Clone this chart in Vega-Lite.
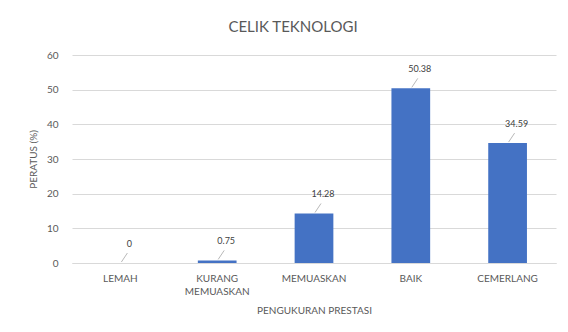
{
  "$schema": "https://vega.github.io/schema/vega-lite/v6.json",
  "autosize": {"type": "none"},
  "width": 484,
  "height": 208,
  "padding": {"left": 72, "top": 55, "right": 12, "bottom": 69},
  "background": "white",
  "title": {
    "text": "CELIK TEKNOLOGI",
    "font": "Lato",
    "fontSize": 15,
    "fontWeight": "normal",
    "color": "#595959",
    "offset": 15,
    "dx": -21
  },
  "data": {
    "values": [
      {"kategori": "LEMAH", "peratus": 0, "label": "0"},
      {"kategori": "KURANG MEMUASKAN", "peratus": 0.75, "label": "0.75"},
      {"kategori": "MEMUASKAN", "peratus": 14.28, "label": "14.28"},
      {"kategori": "BAIK", "peratus": 50.38, "label": "50.38"},
      {"kategori": "CEMERLANG", "peratus": 34.59, "label": "34.59"}
    ]
  },
  "encoding": {
    "x": {
      "field": "kategori",
      "type": "nominal",
      "sort": null,
      "scale": {"paddingInner": 0.6, "paddingOuter": 0.3},
      "axis": {
        "title": "PENGUKURAN PRESTASI",
        "labelAngle": 0,
        "labelExpr": "split(datum.label, ' ')",
        "labelLineHeight": 13,
        "labelPadding": 10,
        "ticks": false,
        "domainColor": "#d9d9d9",
        "titlePadding": 9
      }
    },
    "y": {
      "field": "peratus",
      "type": "quantitative",
      "scale": {"domain": [0, 60]},
      "axis": {
        "title": "PERATUS (%)",
        "values": [0, 10, 20, 30, 40, 50, 60],
        "ticks": false,
        "domain": false,
        "labelPadding": 14,
        "titlePadding": 8,
        "gridColor": "#d9d9d9"
      }
    }
  },
  "layer": [
    {"mark": {"type": "bar", "color": "#4472C4"}},
    {
      "mark": {"type": "rule", "color": "#a6a6a6", "strokeWidth": 0.8, "xOffset": 1, "yOffset": -1, "x2Offset": 7, "y2Offset": -10},
      "encoding": {
        "x2": {"field": "kategori"},
        "y2": {"field": "peratus"}
      }
    },
    {
      "mark": {"type": "text", "font": "Lato", "fontSize": 9, "color": "#404040", "dx": 9, "dy": -19},
      "encoding": {"text": {"field": "label"}}
    }
  ],
  "config": {
    "view": {"stroke": null},
    "axis": {
      "labelFont": "Lato",
      "labelFontSize": 10,
      "labelColor": "#595959",
      "titleFont": "Lato",
      "titleFontSize": 10,
      "titleFontWeight": "normal",
      "titleColor": "#595959"
    }
  }
}
